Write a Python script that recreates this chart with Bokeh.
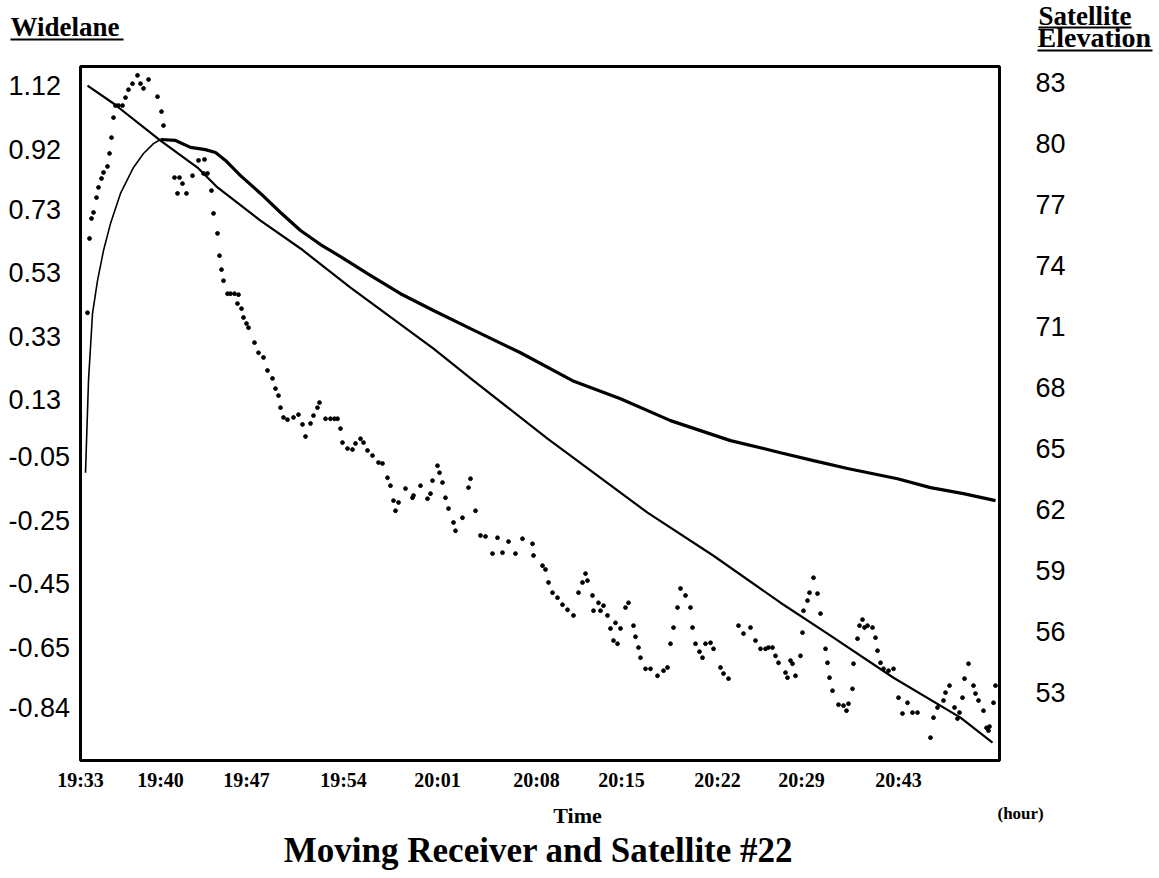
from bokeh.plotting import figure
from bokeh.models import (Range1d, Label, LabelSet, ColumnDataSource, Arrow,
                          BoxAnnotation)
from bokeh.core.properties import value
from bokeh.embed import file_html
from bokeh.resources import INLINE

# ---------------- data ----------------
# x axis is the epoch index; tick labels are clock times of those epochs
time_tick_epochs = [0, 80, 166, 263, 357, 456, 541, 637, 721, 818]
time_tick_labels = ["19:33", "19:40", "19:47", "19:54", "20:01",
                    "20:08", "20:15", "20:22", "20:29", "20:43"]

widelane_ticks = [1.12, 0.92, 0.73, 0.53, 0.33, 0.13, -0.05, -0.25, -0.45, -0.65, -0.84]
elevation_ticks = [83, 80, 77, 74, 71, 68, 65, 62, 59, 56, 53]

# axis extents of the plotting box
EPOCH_MIN, EPOCH_MAX = 0, 919
WIDELANE_MIN, WIDELANE_MAX = -1.007, 1.18
ELEV_MIN, ELEV_MAX = 49.66, 83.79

# raw widelane (dots)
raw_epoch = [
    7, 9, 11, 13, 16, 18, 21, 23, 27, 29, 31,
    33, 35, 38, 42, 45, 48, 52, 57, 60, 63,
    68, 77, 81, 83, 94, 97, 99, 102, 106, 112,
    118, 123, 124, 127, 131, 133, 137, 139, 141, 143,
    147, 150, 154, 157, 158, 161, 163, 166, 168, 174,
    178, 183, 187, 192, 195, 198, 200, 203, 207, 213,
    218, 222, 225, 230, 233, 237, 239, 245, 250, 254,
    257, 260, 262, 267, 272, 275, 280, 283, 287, 292,
    298, 302, 307, 310, 313, 315, 318, 325, 332, 333,
    340, 347, 350, 352, 357, 359, 362, 365, 368, 373,
    375, 382, 388, 390, 395, 400, 405, 412, 417, 422,
    428, 435, 442, 452, 453, 462, 465, 468, 472, 477,
    482, 487, 493, 498, 502, 505, 507, 512, 513, 518,
    520, 523, 527, 530, 533, 535, 537, 540, 545, 548,
    553, 555, 558, 560, 565, 570, 577, 583, 587, 590,
    593, 597, 600, 605, 610, 612, 615, 619, 622, 625,
    630, 633, 640, 643, 648, 658, 663, 670, 675, 680,
    685, 688, 692, 695, 698, 705, 707, 710, 712, 715,
    720, 722, 723, 727, 729, 733, 737, 740, 745, 747,
    749, 752, 758, 763, 766, 768, 772, 773, 777, 779,
    782, 784, 787, 792, 795, 797, 800, 803, 808, 813,
    818, 822, 827, 832, 837, 850, 853, 857, 863, 865,
    869, 874, 877, 879, 882, 884, 888, 893, 895, 898,
    903, 906, 908, 909, 913, 915,
]
raw_widelane = [
    0.404, 0.638, 0.701, 0.720, 0.767, 0.799, 0.827, 0.846, 0.865, 0.906, 0.956,
    1.019, 1.057, 1.057, 1.057, 1.082, 1.107, 1.126, 1.152, 1.126, 1.111,
    1.139, 1.085, 1.038, 0.994, 0.830, 0.780, 0.830, 0.811, 0.780, 0.836,
    0.884, 0.843, 0.887, 0.843, 0.789, 0.717, 0.654, 0.584, 0.540, 0.505,
    0.464, 0.464, 0.464, 0.433, 0.461, 0.417, 0.389, 0.370, 0.357, 0.310,
    0.278, 0.263, 0.222, 0.197, 0.165, 0.143, 0.105, 0.074, 0.067, 0.074,
    0.083, 0.052, 0.014, 0.055, 0.080, 0.105, 0.121, 0.070, 0.070, 0.070,
    0.070, 0.039, -0.005, -0.024, -0.027, -0.008, 0.007, -0.005, -0.030, -0.046,
    -0.068, -0.071, -0.116, -0.141, -0.188, -0.220, -0.194, -0.150, -0.179, -0.172,
    -0.141, -0.182, -0.166, -0.125, -0.078, -0.100, -0.131, -0.179, -0.213, -0.257,
    -0.283, -0.242, -0.147, -0.119, -0.220, -0.298, -0.301, -0.355, -0.305, -0.352,
    -0.317, -0.355, -0.308, -0.324, -0.361, -0.393, -0.405, -0.446, -0.478, -0.494,
    -0.516, -0.532, -0.550, -0.478, -0.446, -0.418, -0.440, -0.487, -0.535, -0.510,
    -0.535, -0.519, -0.550, -0.591, -0.629, -0.573, -0.639, -0.591, -0.525, -0.510,
    -0.582, -0.617, -0.651, -0.683, -0.718, -0.718, -0.740, -0.724, -0.714, -0.639,
    -0.588, -0.525, -0.465, -0.487, -0.525, -0.588, -0.639, -0.664, -0.683, -0.639,
    -0.636, -0.655, -0.714, -0.733, -0.749, -0.582, -0.607, -0.588, -0.629, -0.655,
    -0.655, -0.651, -0.651, -0.677, -0.699, -0.730, -0.746, -0.692, -0.702, -0.740,
    -0.677, -0.604, -0.535, -0.503, -0.478, -0.431, -0.481, -0.544, -0.655, -0.699,
    -0.746, -0.787, -0.831, -0.834, -0.850, -0.828, -0.781, -0.702, -0.623, -0.582,
    -0.563, -0.588, -0.582, -0.588, -0.620, -0.661, -0.699, -0.718, -0.724, -0.718,
    -0.809, -0.859, -0.825, -0.856, -0.856, -0.935, -0.872, -0.840, -0.818, -0.793,
    -0.771, -0.840, -0.875, -0.856, -0.809, -0.749, -0.702, -0.771, -0.796, -0.818,
    -0.850, -0.904, -0.913, -0.900, -0.825, -0.771,
]

# smoothed widelane (solid curve)
smooth_epoch = [5, 8, 12, 17, 23, 30, 40, 53, 63, 73, 80,
                95, 110, 125, 135, 145, 160, 180, 200, 220, 240, 260, 287,
                320, 353, 390, 440, 492, 540, 590, 650, 700, 733, 767, 817,
                850, 883, 915]
smooth_widelane = [-0.100, 0.190, 0.401, 0.505, 0.600, 0.685, 0.780, 0.862, 0.906, 0.937, 0.950,
                   0.947, 0.925, 0.918, 0.909, 0.884, 0.836, 0.780, 0.720, 0.663, 0.619, 0.581, 0.527,
                   0.464, 0.411, 0.354, 0.278, 0.190, 0.133, 0.064, 0.001, -0.037, -0.062, -0.087, -0.119,
                   -0.147, -0.166, -0.188]

# satellite elevation (degrees, right axis)
elev_epoch = [7, 33, 80, 117, 137, 180, 220, 270, 353, 393, 467, 567, 633, 700, 747, 813, 880, 912]
elev_deg = [82.85, 81.97, 80.15, 78.82, 77.84, 76.21, 74.84, 72.92, 69.92, 68.34,
            65.49, 61.85, 59.73, 57.42, 55.90, 53.73, 51.77, 50.54]

# ---------------- layout (pixels) ----------------
W, H = 1159, 878
BOX_L, BOX_R, BOX_T, BOX_B = 80, 999, 66, 760     # plotting box, px from top-left
BOX_W, BOX_H = BOX_R - BOX_L, BOX_B - BOX_T

def padded(lo, hi, size, pad_lo, pad_hi):
    k = (hi - lo) / size
    return Range1d(lo - pad_lo * k, hi + pad_hi * k)

def sy(y_from_top):          # screen y is measured upward from the canvas bottom
    return H - y_from_top

SERIF = "Liberation Serif"
SANS = "Liberation Sans"

p = figure(width=W, height=H,
           x_range=padded(EPOCH_MIN, EPOCH_MAX, BOX_W, BOX_L, W - BOX_R),
           y_range=padded(WIDELANE_MIN, WIDELANE_MAX, BOX_H, H - BOX_B, BOX_T),
           x_axis_location=None, y_axis_location=None,
           output_backend="svg", toolbar_location=None, min_border=0)
p.extra_y_ranges = {"elev": padded(ELEV_MIN, ELEV_MAX, BOX_H, H - BOX_B, BOX_T)}
p.background_fill_color = "white"
p.border_fill_color = "white"
p.outline_line_color = None
p.grid.visible = False

# plotting box
p.add_layout(BoxAnnotation(left=EPOCH_MIN, right=EPOCH_MAX,
                           bottom=WIDELANE_MIN, top=WIDELANE_MAX,
                           fill_alpha=0, line_color="black", line_alpha=1.0,
                           line_width=3))

# marks
p.scatter(raw_epoch, raw_widelane, size=3.8, color="black", marker="circle")

n_thin = len([e for e in smooth_epoch if e <= 80])
p.line(smooth_epoch[:n_thin], smooth_widelane[:n_thin], line_color="black", line_width=1.6)
p.line(smooth_epoch[n_thin - 1:], smooth_widelane[n_thin - 1:], line_color="black", line_width=3.2)

p.line(elev_epoch, elev_deg, y_range_name="elev", line_color="black", line_width=2.2)

# tick labels
left_src = ColumnDataSource(dict(y=widelane_ticks,
                                 text=[f"{v:.2f}" for v in widelane_ticks]))
p.add_layout(LabelSet(x=8, y="y", text="text", x_units="screen", y_units="data",
                      source=left_src, text_align="left", text_baseline="middle",
                      text_font=value(SANS), text_font_size=value("27px"),
                      text_color="black"))

right_src = ColumnDataSource(dict(y=elevation_ticks,
                                  text=[str(v) for v in elevation_ticks]))
p.add_layout(LabelSet(x=BOX_R + 36, y="y", text="text", x_units="screen",
                      y_units="data", y_range_name="elev",
                      source=right_src, text_align="left", text_baseline="middle",
                      text_font=value(SANS), text_font_size=value("27px"),
                      text_color="black"))

bottom_src = ColumnDataSource(dict(x=time_tick_epochs, text=time_tick_labels))
p.add_layout(LabelSet(x="x", y=sy(BOX_B + 19), text="text", x_units="data", y_units="screen",
                      source=bottom_src, text_align="center", text_baseline="middle",
                      text_font=value(SERIF), text_font_style=value("bold"),
                      text_font_size=value("20px"), text_color="black"))

# headers and titles
def add_label(text, x, y_top, size, font=SERIF, style="bold", align="left"):
    p.add_layout(Label(text=text, x=x, y=sy(y_top), x_units="screen", y_units="screen",
                       text_font=font, text_font_style=style, text_font_size=size,
                       text_align=align, text_baseline="middle", text_color="black"))

def add_underline(x0, x1, y_top):
    p.add_layout(Arrow(end=None, x_start=x0, y_start=sy(y_top), x_end=x1, y_end=sy(y_top),
                       start_units="screen", end_units="screen",
                       line_color="black", line_width=2))

add_label("Widelane", 10, 26, "27px")
add_underline(10, 123, 39)
add_label("Satellite", 1038, 15, "27px")
add_underline(1038, 1131, 27)
add_label("Elevation", 1037, 37, "28px")
add_underline(1037, 1152, 50)

add_label("Time", 577, 815, "22px", align="center")
add_label("(hour)", 997, 813, "17px")
add_label("Moving Receiver and Satellite #22", 538, 850, "35px", align="center")

open("out.html", "w").write(file_html(p, INLINE))
